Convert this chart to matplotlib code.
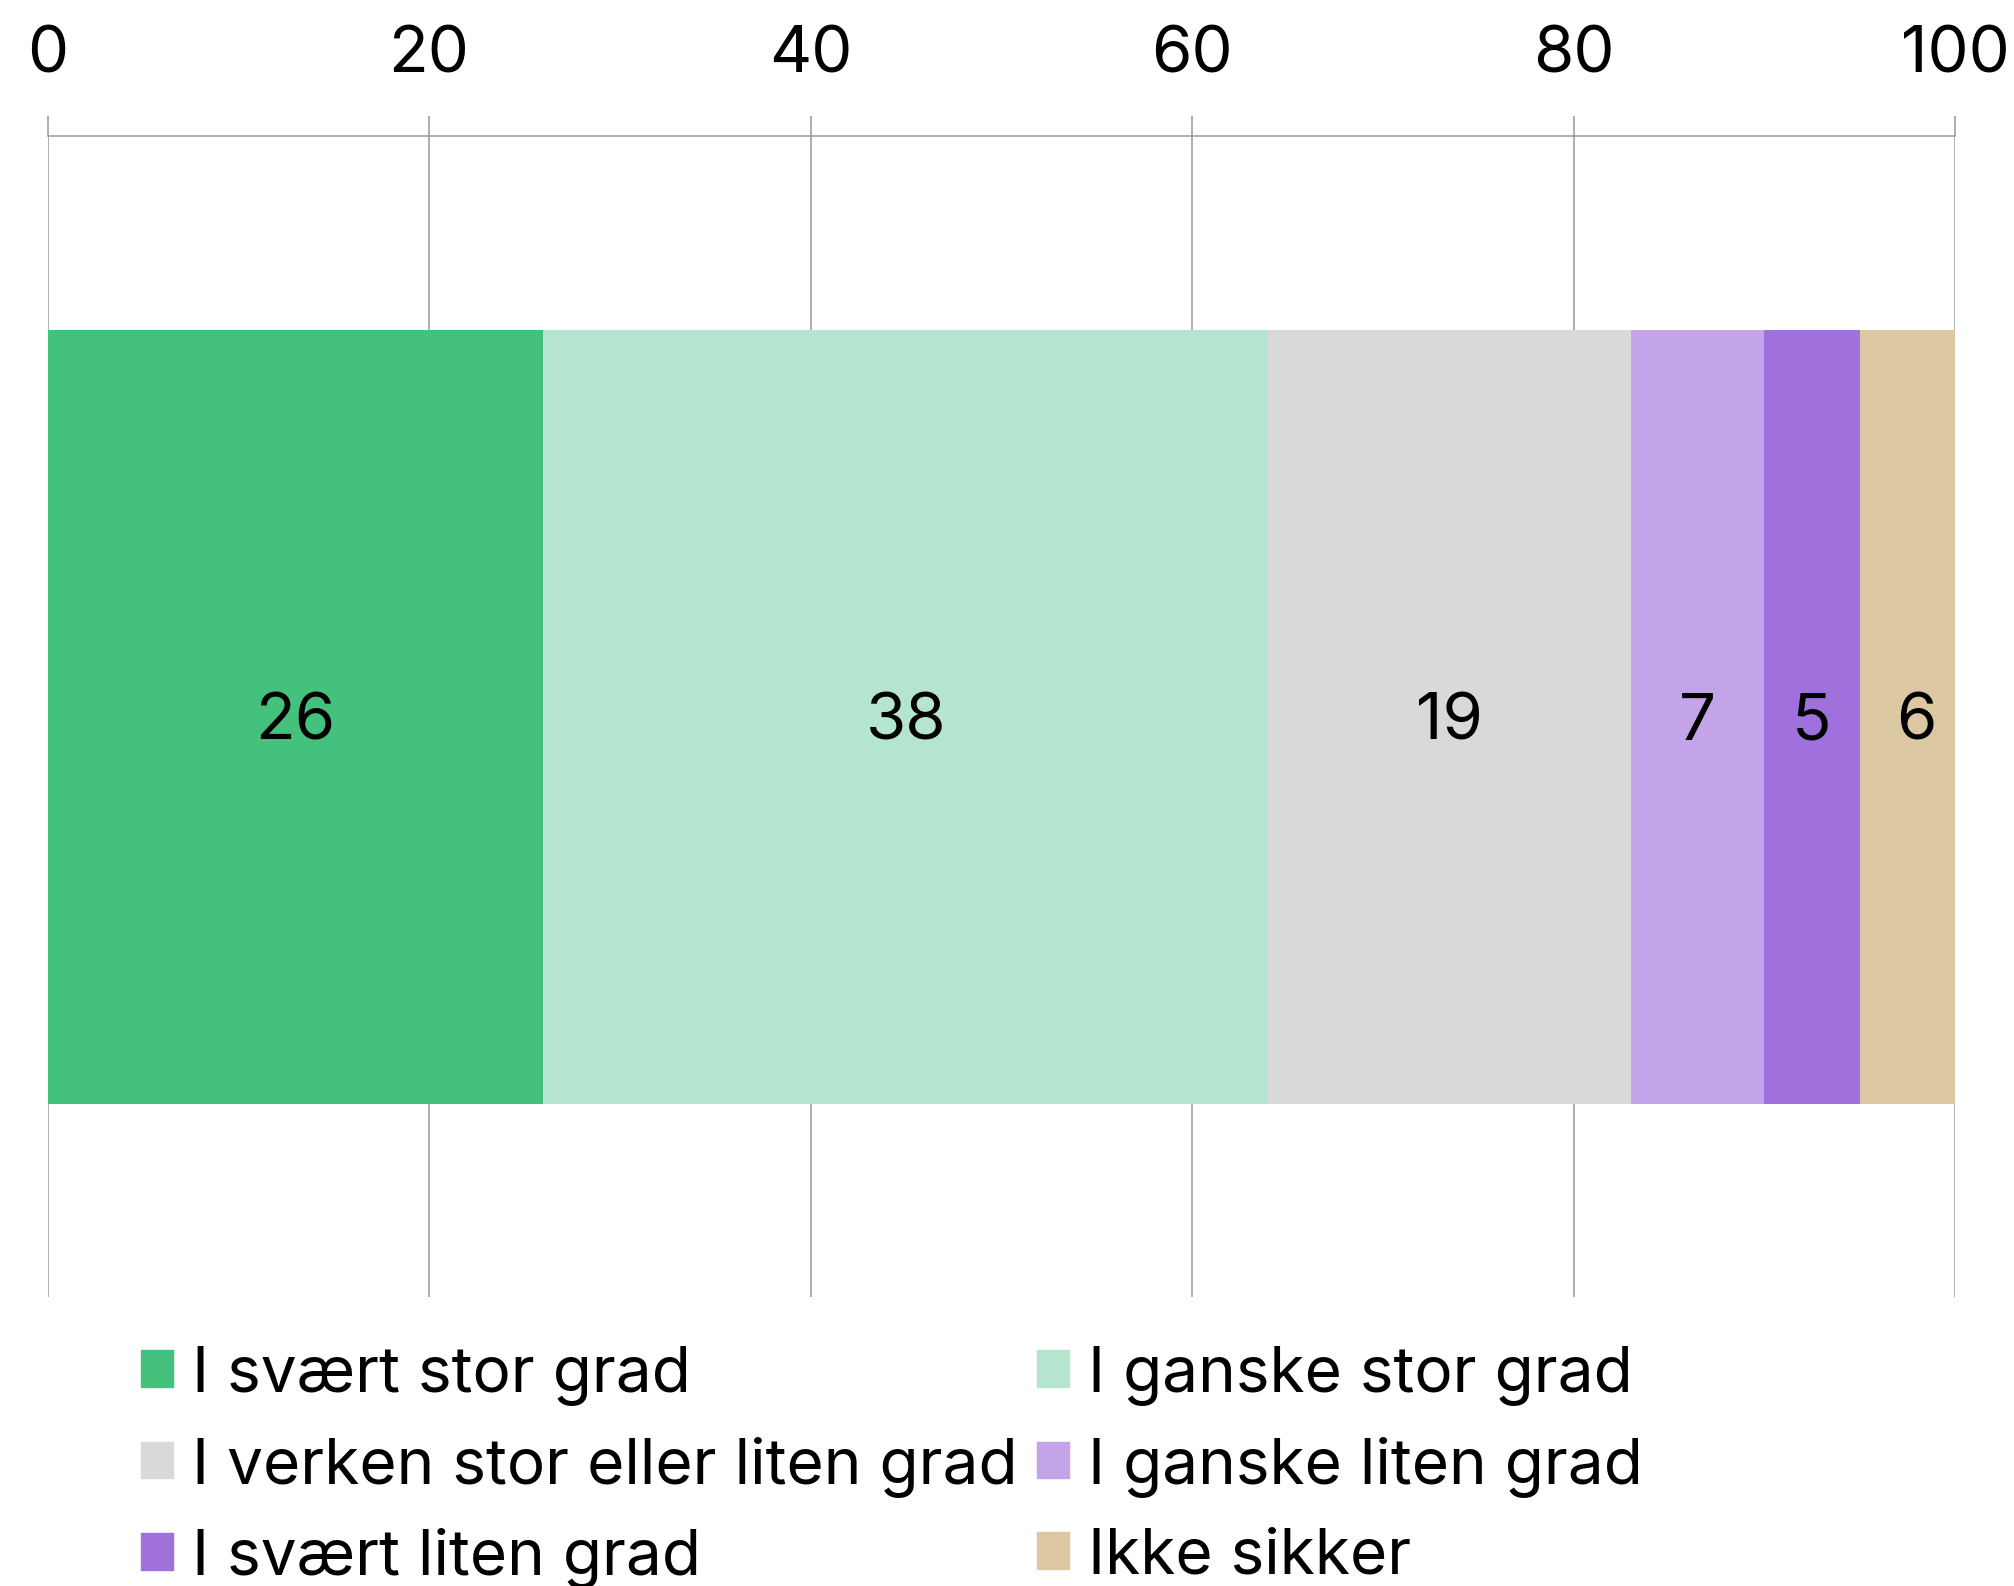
import matplotlib.pyplot as plt
from matplotlib.patches import Patch

plt.rcParams['font.family'] = ['Inter', 'DejaVu Sans']

# Data
categories = ['I svært stor grad', 'I ganske stor grad', 'I verken stor eller liten grad',
              'I ganske liten grad', 'I svært liten grad', 'Ikke sikker']
values = [26, 38, 19, 7, 5, 6]
colors = ['#43C17D', '#B5E5CF', '#D9D9D9', '#C4A4E8', '#A070DD', '#DDC8A4']
x_ticks = [0, 20, 40, 60, 80, 100]

fig = plt.figure(figsize=(20.14, 15.86), dpi=100)
ax = fig.add_axes([47.5 / 2014, 1 - 1297 / 1586, (1955 - 47.5) / 2014, (1297 - 136) / 1586])

left = 0
for cat, val, col in zip(categories, values, colors):
    ax.barh(0, val, left=left, height=1.0, color=col, label=cat, zorder=2)
    ax.text(left + val / 2, -0.008, str(val), ha='center', va='center', fontsize=47,
            color='black', zorder=3)
    left += val

ax.set_xlim(0, 100)
ax.set_ylim(-0.75, 0.75)
ax.set_xticks(x_ticks)
ax.xaxis.tick_top()
ax.tick_params(axis='x', length=14.4, width=1.1, color='#9a9a9a', labelsize=47, pad=22)
ax.set_yticks([])
ax.grid(axis='x', color='#9a9a9a', linewidth=1.1, zorder=0)
for s in ['left', 'right', 'bottom']:
    ax.spines[s].set_visible(False)
ax.spines['top'].set_color('#9a9a9a')
ax.spines['top'].set_linewidth(1.1)
ax.set_axisbelow(True)

handles = [Patch(color=c) for c in colors]
order = [0, 2, 4, 1, 3, 5]
fig.legend([handles[i] for i in order], [categories[i] for i in order],
           ncol=2, loc='upper left', bbox_to_anchor=(141 / 2014, 1 - 1345 / 1586),
           frameon=False, fontsize=46, handlelength=0.5, handleheight=0.5,
           handletextpad=0.3, columnspacing=0.3, labelspacing=0.48, borderpad=0,
           borderaxespad=0)

fig.savefig('out.png', dpi=100)
